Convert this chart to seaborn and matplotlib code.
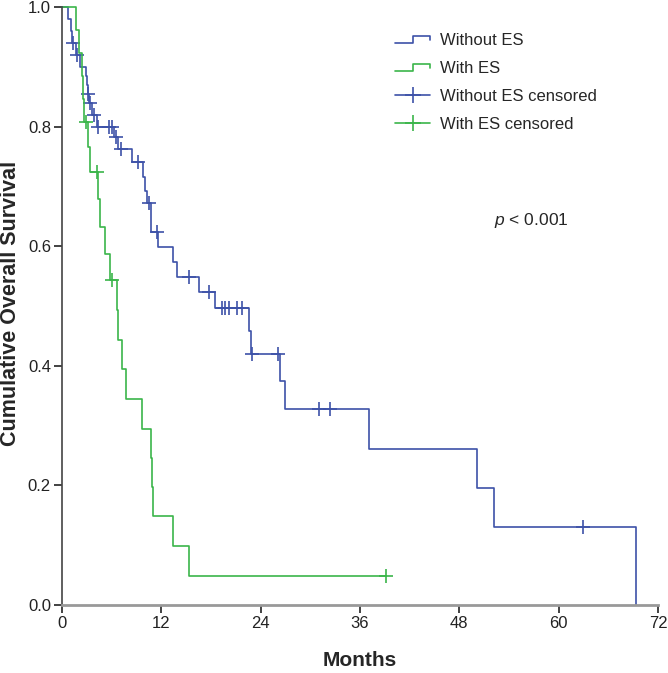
import numpy as np
import pandas as pd
import matplotlib
matplotlib.use("Agg")
import matplotlib.pyplot as plt
import seaborn as sns
from matplotlib.lines import Line2D
from matplotlib.legend_handler import HandlerBase

# Kaplan-Meier step values (months, cumulative survival)
without_times = [0, 0.75, 1.05, 1.2, 1.7, 2.2, 2.9, 3.0, 3.1, 3.25, 3.6, 4.2, 6.3, 6.8,
                 8.5, 9.8, 10.0, 10.3, 10.8, 11.6, 13.4, 13.9, 16.5, 18.5, 22.6, 22.8,
                 26.3, 26.9, 37.1, 50.1, 52.2, 69.4]
without_surv = [1.0, 0.98, 0.96, 0.94, 0.92, 0.90, 0.885, 0.87, 0.855, 0.84, 0.82, 0.80,
                0.782, 0.763, 0.74, 0.716, 0.693, 0.673, 0.623, 0.598, 0.573, 0.548,
                0.523, 0.497, 0.458, 0.420, 0.374, 0.327, 0.261, 0.195, 0.130, 0.0]
without_censor = [1.35, 1.85, 3.2, 3.35, 3.9, 4.4, 5.7, 6.1, 6.5, 7.1, 9.2, 10.45, 11.5,
                  15.4, 17.8, 19.3, 19.7, 20.2, 21.2, 21.8, 23.0, 26.1, 31.0, 32.4, 62.9]

with_times = [0, 1.7, 2.0, 2.4, 2.5, 2.6, 3.2, 3.4, 4.4, 4.6, 5.2, 5.8, 6.6, 6.8, 7.3,
              7.7, 9.7, 10.75, 10.9, 11.0, 13.4, 15.3]
with_surv = [1.0, 0.962, 0.923, 0.885, 0.846, 0.808, 0.766, 0.724, 0.679, 0.632, 0.587,
             0.543, 0.493, 0.443, 0.394, 0.345, 0.295, 0.246, 0.197, 0.148, 0.099, 0.049]
with_censor = [2.95, 4.2, 6.1, 39.2]

labels = ["Without ES", "With ES", "Without ES censored", "With ES censored"]
blue = "#3d52a8"
green = "#3bb54a"


def level_at(times, surv, t):
    i = np.searchsorted(times, t, side="right") - 1
    return surv[i]


# build tables for seaborn
wo_df = pd.DataFrame({"t": without_times, "s": without_surv})
w_df = pd.DataFrame({"t": with_times + [max(with_censor)],
                     "s": with_surv + [with_surv[-1]]})
wo_c = pd.DataFrame({"t": without_censor,
                     "s": [level_at(without_times, without_surv, t) for t in without_censor]})
w_c = pd.DataFrame({"t": with_censor,
                    "s": [level_at(with_times, with_surv, t) for t in with_censor]})

sns.set_style("ticks")
plt.rcParams["font.family"] = ["Liberation Sans", "DejaVu Sans"]
plt.rcParams["mathtext.fontset"] = "custom"
plt.rcParams["mathtext.it"] = "Liberation Sans:italic"
plt.rcParams["mathtext.rm"] = "Liberation Sans"

fig = plt.figure(figsize=(6.68, 6.73), dpi=100)
ax = fig.add_axes([62 / 668, 68 / 673, 596 / 668, 598 / 673])

lw = 1.2
sns.lineplot(data=wo_df, x="t", y="s", ax=ax, color=blue, lw=lw, drawstyle="steps-post",
             estimator=None, sort=False, clip_on=False)
sns.lineplot(data=w_df, x="t", y="s", ax=ax, color=green, lw=lw, drawstyle="steps-post",
             estimator=None, sort=False, clip_on=False)
sns.scatterplot(data=wo_c, x="t", y="s", ax=ax, color=blue, marker="+", s=90,
                linewidth=1.2, clip_on=False)
sns.scatterplot(data=w_c, x="t", y="s", ax=ax, color=green, marker="+", s=90,
                linewidth=1.2, clip_on=False)

ax.set_xlim(0, 72)
ax.set_ylim(0, 1.0)
ax.set_xticks(np.arange(0, 73, 12))
ax.set_yticks(np.arange(0, 1.01, 0.2))
ax.set_yticklabels([f"{v:.1f}" for v in np.arange(0, 1.01, 0.2)])
ax.tick_params(axis="both", direction="out", length=6, width=1.2, pad=2,
               labelsize=12, colors="#222222")
for side in ["top", "right"]:
    ax.spines[side].set_visible(False)
ax.spines["left"].set_color("#444444")
ax.spines["left"].set_linewidth(1.2)
ax.spines["bottom"].set_color("#999999")
ax.spines["bottom"].set_linewidth(2)

ax.set_xlabel("Months", fontsize=15, fontweight="bold", labelpad=14)
ax.set_ylabel("Cumulative Overall Survival", fontsize=15.5, fontweight="bold")
ax.yaxis.set_label_coords(-0.068, 0.505)

ax.text(52.2, 0.643, r"$\it{p}$ < 0.001", fontsize=12.5, va="center", ha="left")


# legend with step-shaped handles like SPSS
class StepHandler(HandlerBase):
    def create_artists(self, legend, orig_handle, xdescent, ydescent, width, height,
                       fontsize, trans):
        x0, y0 = -xdescent, -ydescent
        xs = [x0, x0 + width * 0.5, x0 + width * 0.5, x0 + width, x0 + width]
        ys = [y0 + height * 0.15, y0 + height * 0.15, y0 + height * 0.8,
              y0 + height * 0.8, y0 + height * 0.45]
        ln = Line2D(xs, ys, color=orig_handle.get_color(), lw=orig_handle.get_linewidth())
        ln.set_transform(trans)
        return [ln]


h_wo = Line2D([], [], color=blue, lw=lw)
h_w = Line2D([], [], color=green, lw=lw)
h_woc = Line2D([], [], color=blue, lw=lw, marker="+", markersize=12, markeredgewidth=1.2)
h_wc = Line2D([], [], color=green, lw=lw, marker="+", markersize=12, markeredgewidth=1.2)
fig.legend([h_wo, h_w, h_woc, h_wc], labels,
           handler_map={h_wo: StepHandler(), h_w: StepHandler()},
           loc="upper left", bbox_to_anchor=(395 / 668, 1 - 33 / 673), frameon=False,
           fontsize=12, handlelength=2.1, handletextpad=0.6, labelspacing=0.78,
           borderpad=0, borderaxespad=0)

fig.savefig("out.png", dpi=100)
